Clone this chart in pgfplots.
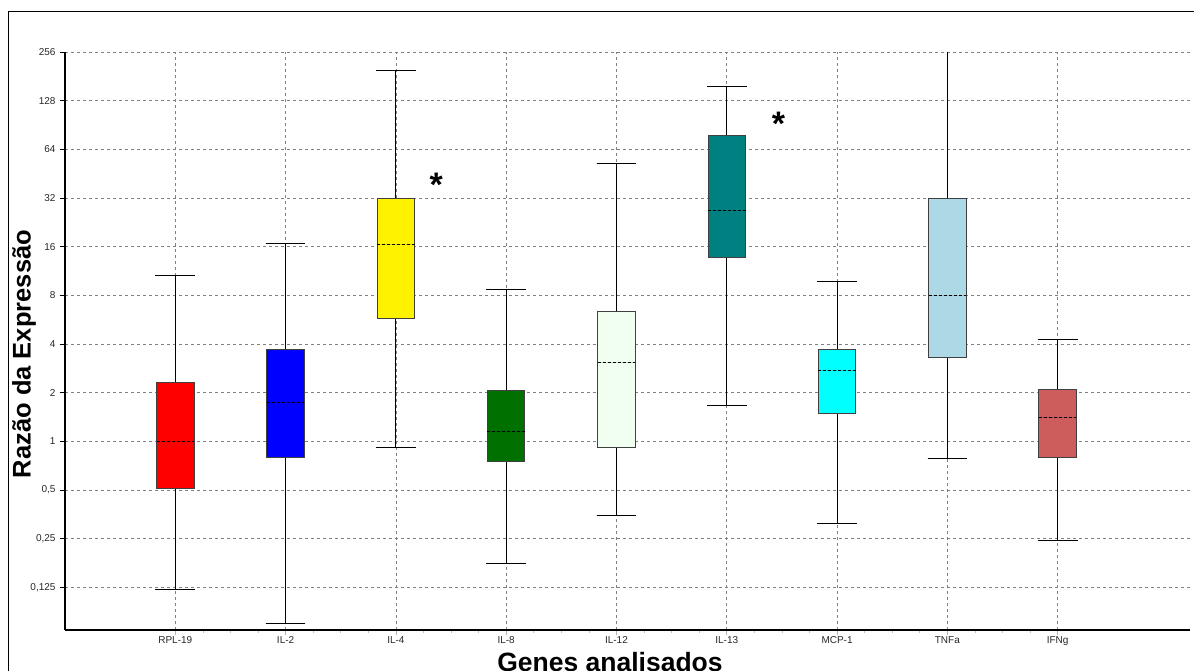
\documentclass[border=0pt]{standalone}
\usepackage{pgfplots}
\pgfplotsset{compat=1.18}
\usepgfplotslibrary{statistics}
\usepackage{fontspec}
\setmainfont{Liberation Sans}
\definecolor{cgreen}{HTML}{007000}
\definecolor{choney}{HTML}{F0FFF0}
\definecolor{cteal}{HTML}{008080}
\definecolor{ccyan}{HTML}{00FFFF}
\definecolor{clblue}{HTML}{ADD8E6}
\definecolor{cired}{HTML}{CD5C5C}
\definecolor{cgrid}{HTML}{808080}
\begin{document}
\begin{tikzpicture}
\useasboundingbox (0,0) rectangle (1194pt,-670pt);
\draw[line width=1pt] (8pt,-700pt) -- (8pt,-11pt) -- (1250pt,-11pt);
\begin{axis}[
  at={(65pt,-630pt)}, anchor=south west,
  scale only axis, width=1125pt, height=578pt,
  xmin=0, xmax=10.2,
  ymode=log, log basis y=2,
  ymin=0.0681, ymax=256,
  axis x line*=bottom, axis y line*=left,
  axis line style={line width=2pt, -},
  xtick={1,2,3,4,5,6,7,8,9},
  xticklabels={RPL-19,IL-2,IL-4,IL-8,IL-12,IL-13,MCP-1,TNFa,IFNg},
  minor x tick num=3,
  ytick={0.125,0.25,0.5,1,2,4,8,16,32,64,128,256},
  yticklabels={{0,125},{0,25},{0,5},1,2,4,8,16,32,64,128,256},
  tick align=outside,
  major tick length=5pt, minor tick length=3pt,
  x tick style={cgrid!60, line width=0.6pt},
  minor x tick style={cgrid!50},
  y tick style={black, line width=0.8pt},
  ymajorgrids, xmajorgrids,
  major grid style={cgrid, line width=0.7pt, dash pattern=on 3pt off 3pt},
  tick label style={font=\fontsize{10}{12}\selectfont, black!85},
  yticklabel style={xshift=-1pt},
  xticklabel style={yshift=2pt},
  boxplot/draw direction=y,
  boxplot/box extend=0.34,
  boxplot/whisker extend=0.36,
  boxplot/every median/.style={black, line width=1pt, dash pattern=on 3pt off 2pt},
  boxplot/every whisker/.style={black, line width=1pt},
  boxplot/every box/.style={draw=black!75, line width=1pt},
]
\addplot[boxplot prepared={draw position=1, lower whisker=0.122, lower quartile=0.512, median=1.0, upper quartile=2.30, upper whisker=10.67}, fill=red] coordinates {};
\addplot[boxplot prepared={draw position=2, lower whisker=0.0746, lower quartile=0.796, median=1.744, upper quartile=3.70, upper whisker=16.8}, fill=blue] coordinates {};
\addplot[boxplot prepared={draw position=3, lower whisker=0.914, lower quartile=5.75, median=16.4, upper quartile=32, upper whisker=198}, fill=yellow] coordinates {};
\addplot[boxplot prepared={draw position=4, lower whisker=0.175, lower quartile=0.75, median=1.15, upper quartile=2.06, upper whisker=8.7}, fill=cgreen] coordinates {};
\addplot[boxplot prepared={draw position=5, lower whisker=0.348, lower quartile=0.91, median=3.09, upper quartile=6.39, upper whisker=52.5}, fill=choney] coordinates {};
\addplot[boxplot prepared={draw position=6, lower whisker=1.664, lower quartile=13.8, median=26.9, upper quartile=77.5, upper whisker=157}, fill=cteal] coordinates {};
\addplot[boxplot prepared={draw position=7, lower whisker=0.311, lower quartile=1.48, median=2.75, upper quartile=3.68, upper whisker=9.8}, fill=ccyan] coordinates {};
\addplot[boxplot prepared={draw position=8, lower whisker=0.78, lower quartile=3.3, median=8, upper quartile=32, upper whisker=300}, fill=clblue] coordinates {};
\addplot[boxplot prepared={draw position=9, lower whisker=0.243, lower quartile=0.80, median=1.40, upper quartile=2.09, upper whisker=4.27}, fill=cired] coordinates {};
\node[font=\fontsize{34}{34}\bfseries\selectfont] at (axis cs:3.367,38.9) {*};
\node[font=\fontsize{34}{34}\bfseries\selectfont] at (axis cs:6.469,91.5) {*};
\end{axis}
\node[rotate=90, font=\fontsize{25.5}{28}\bfseries\selectfont] at (24pt,-354pt) {Razão da Expressão};
\node[anchor=base, font=\fontsize{26.5}{28}\bfseries\selectfont] at (610pt,-671pt) {Genes analisados};
\end{tikzpicture}
\end{document}
